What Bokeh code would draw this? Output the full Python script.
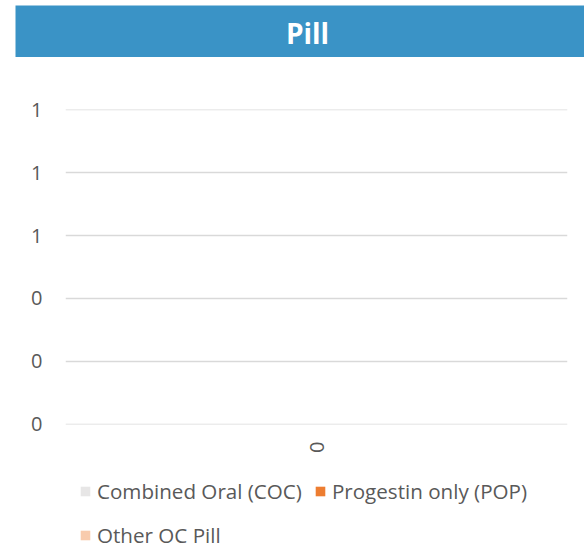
from bokeh.plotting import figure
from bokeh.layouts import column
from bokeh.models import (FixedTicker, Legend, LegendItem, Label,
                          FactorRange, Range1d, ColumnDataSource)
from bokeh.embed import file_html
from bokeh.resources import INLINE

# ---- data ----
title_text = "Pill"
categories = ["0"]
series_names = ["Combined Oral (COC)", "Progestin only (POP)", "Other OC Pill"]
coc = [0]
pop = [0]
other = [0]
y_ticks = [0, 0.2, 0.4, 0.6, 0.8, 1.0]
y_tick_labels = ["0", "0", "0", "1", "1", "1"]
colors = ["#e7e6e6", "#ed7d31", "#f8cbad"]

FONT = "Open Sans"
TXT = "#595959"
W = 584

src = ColumnDataSource(dict(cats=categories, coc=coc, pop=pop, other=other))
stack_keys = ["coc", "pop", "other"]

# ---- title banner ----
top = figure(width=W, height=57, x_range=Range1d(0, 1), y_range=Range1d(0, 1),
             output_backend="svg", toolbar_location=None, title=None,
             x_axis_type=None, y_axis_type=None, frame_align=False,
             min_border_left=15, min_border_right=0, min_border_top=5,
             min_border_bottom=0)
top.outline_line_color = None
top.background_fill_color = "#3a93c6"
top.border_fill_color = "white"
top.grid.visible = False
top.add_layout(Label(x=292, y=25, x_units="screen", y_units="screen",
                     text=title_text, text_align="center",
                     text_baseline="alphabetic", text_color="white",
                     text_font=FONT, text_font_style="bold",
                     text_font_size="28px"))

# ---- main chart ----
p = figure(width=W, height=405, x_range=FactorRange(*categories),
           y_range=Range1d(-0.001, 1.001), output_backend="svg",
           toolbar_location=None, title=None, frame_align=False,
           min_border_left=65, min_border_right=17, min_border_top=52,
           min_border_bottom=38)
p.outline_line_color = None
p.border_fill_color = "white"
rs = p.vbar_stack(stack_keys, x="cats", width=0.5, color=colors,
                  line_color=None, source=src)

p.yaxis.ticker = FixedTicker(ticks=y_ticks)
p.yaxis.major_label_overrides = {t: l for t, l in zip(y_ticks, y_tick_labels)}
p.yaxis.axis_line_color = None
p.yaxis.major_tick_line_color = None
p.yaxis.minor_tick_line_color = None
p.yaxis.major_tick_out = 0
p.yaxis.major_label_standoff = 23
p.yaxis.major_label_text_font = FONT
p.yaxis.major_label_text_font_size = "20px"
p.yaxis.major_label_text_color = TXT

p.xaxis.axis_line_color = None
p.xaxis.major_tick_line_color = None
p.xaxis.major_tick_out = 0
p.xaxis.major_label_orientation = "vertical"
p.xaxis.major_label_standoff = 17
p.xaxis.major_label_text_font = FONT
p.xaxis.major_label_text_font_size = "20px"
p.xaxis.major_label_text_color = TXT

p.xgrid.grid_line_color = None
p.ygrid.ticker = FixedTicker(ticks=y_ticks)
p.ygrid.grid_line_color = "#d9d9d9"
p.ygrid.grid_line_width = 1.5

# ---- legend strip ----
lf = figure(width=W, height=86, x_range=FactorRange(*categories),
            y_range=Range1d(0, 1), output_backend="svg", toolbar_location=None,
            title=None, x_axis_type=None, y_axis_type=None, frame_align=False,
            min_border_left=0, min_border_right=0, min_border_top=0,
            min_border_bottom=0)
lf.outline_line_color = None
lf.grid.visible = False
lrs = lf.vbar_stack(stack_keys, x="cats", width=0.5, color=colors,
                    line_color=None, source=src)

common = dict(orientation="horizontal", glyph_width=12, glyph_height=12,
              label_standoff=6, spacing=12, padding=0, margin=0,
              label_text_font=FONT, label_text_font_size="20.6px",
              label_text_color=TXT, border_line_color=None,
              background_fill_alpha=0, label_height=20)
leg1 = Legend(items=[LegendItem(label=series_names[0], renderers=[lrs[0]]),
                     LegendItem(label=series_names[1], renderers=[lrs[1]])],
              location=(79, 43), **common)
leg2 = Legend(items=[LegendItem(label=series_names[2], renderers=[lrs[2]])],
              location=(79, -1), **common)
lf.add_layout(leg1)
lf.add_layout(leg2)

layout = column(top, p, lf, spacing=0)
open("out.html", "w").write(file_html(layout, INLINE))
